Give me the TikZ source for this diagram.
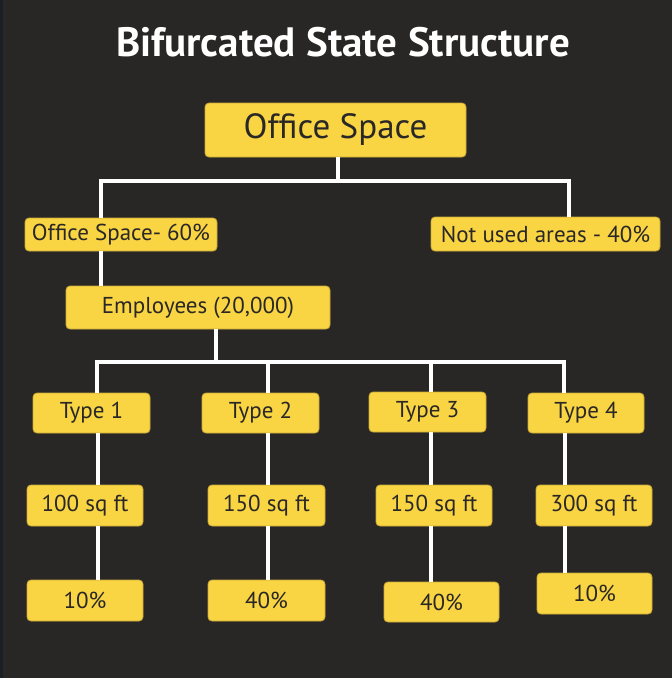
\documentclass[tikz,border=0pt]{standalone}
\usepackage{fontspec}
\setmainfont{PT Sans}
\definecolor{bg}{HTML}{282726}
\definecolor{edgestrip}{HTML}{1B2026}
\definecolor{yel}{HTML}{F9D443}
\definecolor{yedge}{HTML}{C9A838}
\definecolor{ink}{HTML}{2A2826}
\tikzset{
  box/.style={fill=yel, draw=yedge, line width=0.8pt, rounded corners=4pt, text=ink, inner sep=0pt, align=center},
  conn/.style={draw=white, line width=3.5pt},
  busline/.style={draw=white, line width=3.5pt, line cap=rect},
}
\newcommand{\bx}[7]{\node[box, minimum width=#3pt, minimum height=#4pt, font=\fontsize{#5}{#5}\selectfont] (#6) at (#1,#2) {#7};}
\begin{document}
\begin{tikzpicture}[x=1pt,y=-1pt]
\fill[bg] (0,0) rectangle (672,678);
\fill[edgestrip] (0,0) rectangle (3,678);
\useasboundingbox (0,0) rectangle (672,678);
\node[text=white, font=\fontsize{41}{41}\selectfont\bfseries] (title) at (343,42) {Bifurcated State Structure};
% boxes
\bx{335.5}{130}{261}{54}{35}{top}{Office Space}
\bx{121}{234.5}{192}{33}{23}{osp}{Office Space- 60\%}
\bx{545.5}{234}{229}{34}{23}{nua}{Not used areas - 40\%}
\bx{198}{307.5}{264}{43}{23}{emp}{Employees (20,000)}
\bx{91.5}{413}{117}{40}{23}{t1}{Type 1}
\bx{260.5}{413}{117}{40}{23}{t2}{Type 2}
\bx{427.5}{412}{117}{40}{23}{t3}{Type 3}
\bx{586}{413}{116}{40}{23}{t4}{Type 4}
\bx{85}{505.5}{116}{41}{23}{s1}{100 sq ft}
\bx{266.5}{505.5}{117}{41}{23}{s2}{150 sq ft}
\bx{434}{505.5}{116}{41}{23}{s3}{150 sq ft}
\bx{594}{505.5}{116}{41}{23}{s4}{300 sq ft}
\bx{85}{600.5}{116}{41}{23}{p1}{10\%}
\bx{266.5}{600.5}{117}{41}{23}{p2}{40\%}
\bx{441.5}{602}{115}{40}{23}{p3}{40\%}
\bx{594.5}{593.5}{115}{41}{23}{p4}{10\%}
% first bus
\coordinate (j1) at (338,181);
\coordinate (b1L) at (101,181);
\coordinate (b1R) at (569,181);
\draw[conn] (j1 |- top.south) -- (j1);
\draw[busline] (b1L) -- (b1R);
\draw[conn] (b1L) -- (b1L |- osp.north);
\draw[conn] (b1R) -- (b1R |- nua.north);
% office space to employees
\coordinate (c1) at (101,0);
\draw[conn] (c1 |- osp.south) -- (c1 |- emp.north);
% second bus
\coordinate (j2) at (216,362);
\coordinate (b2a) at (97,362);
\coordinate (b2b) at (268,362);
\coordinate (b2c) at (431,362);
\coordinate (b2d) at (564,362);
\draw[conn] (j2 |- emp.south) -- (j2);
\draw[busline] (b2a) -- (b2d);
\draw[conn] (b2a) -- (b2a |- t1.north);
\draw[conn] (b2b) -- (b2b |- t2.north);
\draw[conn] (b2c) -- (b2c |- t3.north);
\draw[conn] (b2d) -- (b2d |- t4.north);
% columns
\coordinate (k1) at (98,0);
\coordinate (k2) at (268,0);
\coordinate (k3) at (431,0);
\coordinate (k4) at (565,0);
\draw[conn] (k1 |- t1.south) -- (k1 |- s1.north);
\draw[conn] (k2 |- t2.south) -- (k2 |- s2.north);
\draw[conn] (k3 |- t3.south) -- (k3 |- s3.north);
\draw[conn] (k4 |- t4.south) -- (k4 |- s4.north);
\draw[conn] (k1 |- s1.south) -- (k1 |- p1.north);
\draw[conn] (k2 |- s2.south) -- (k2 |- p2.north);
\draw[conn] (k3 |- s3.south) -- (k3 |- p3.north);
\draw[conn] (k4 |- s4.south) -- (k4 |- p4.north);
\end{tikzpicture}
\end{document}
